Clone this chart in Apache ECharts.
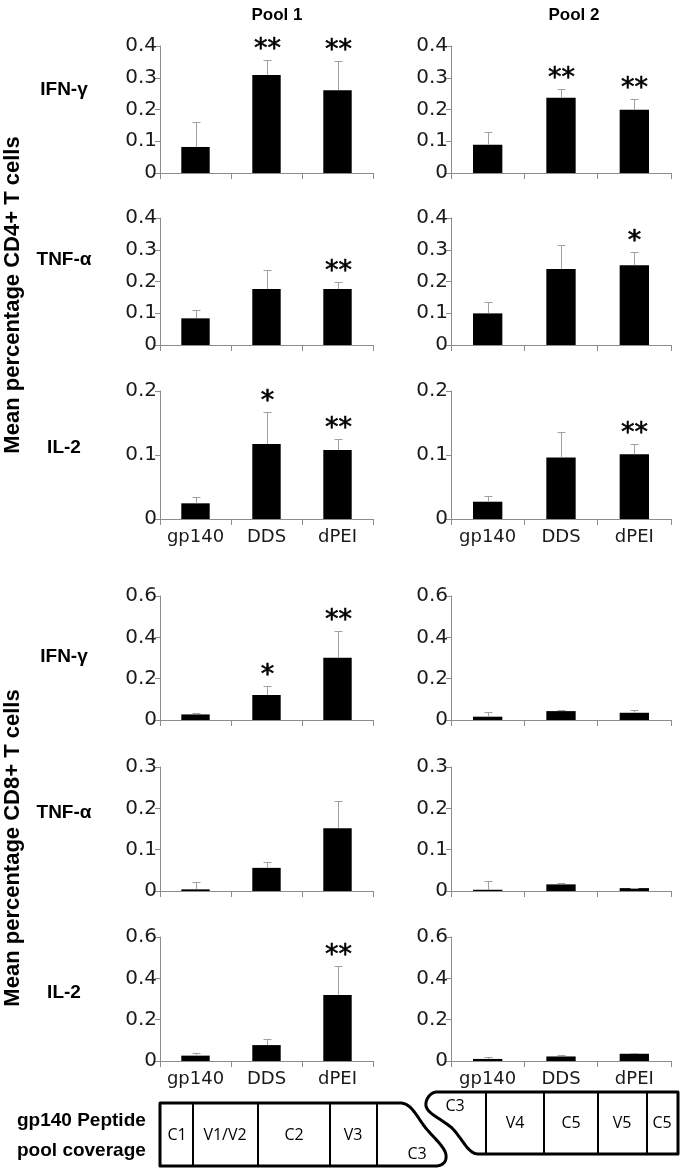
<!DOCTYPE html>
<html><head><meta charset="utf-8">
<script src="https://cdn.jsdelivr.net/npm/echarts@6/dist/echarts.min.js"></script>
<style>html,body{margin:0;padding:0;background:#fff}#c{width:683px;height:1170px}</style>
</head><body><div id="c"></div>
<script>
// ---------- data ----------
const categories = ['gp140', 'DDS', 'dPEI'];
const rowLabels = ['IFN-γ', 'TNF-α', 'IL-2', 'IFN-γ', 'TNF-α', 'IL-2'];
const poolTitles = ['Pool 1', 'Pool 2'];
const groupTitles = ['Mean percentage CD4+ T cells', 'Mean percentage CD8+ T cells'];
const yMax = [0.4, 0.4, 0.2, 0.6, 0.3, 0.6];
const yStep = [0.1, 0.1, 0.1, 0.2, 0.1, 0.2];

// Pool 1
const p1Cd4Ifn = [0.082, 0.309, 0.261], p1Cd4IfnErr = [0.078, 0.047, 0.092], p1Cd4IfnSig = ['', '**', '**'];
const p1Cd4Tnf = [0.084, 0.176, 0.176], p1Cd4TnfErr = [0.025, 0.061, 0.022], p1Cd4TnfSig = ['', '', '**'];
const p1Cd4Il2 = [0.0245, 0.117, 0.108], p1Cd4Il2Err = [0.0095, 0.050, 0.017], p1Cd4Il2Sig = ['', '*', '**'];
const p1Cd8Ifn = [0.027, 0.121, 0.301], p1Cd8IfnErr = [0.008, 0.042, 0.132], p1Cd8IfnSig = ['', '*', '**'];
const p1Cd8Tnf = [0.004, 0.056, 0.152], p1Cd8TnfErr = [0.018, 0.014, 0.066], p1Cd8TnfSig = ['', '', ''];
const p1Cd8Il2 = [0.026, 0.077, 0.319], p1Cd8Il2Err = [0.013, 0.029, 0.140], p1Cd8Il2Sig = ['', '', '**'];
// Pool 2
const p2Cd4Ifn = [0.089, 0.237, 0.199], p2Cd4IfnErr = [0.039, 0.028, 0.033], p2Cd4IfnSig = ['', '**', '**'];
const p2Cd4Tnf = [0.0996, 0.239, 0.251], p2Cd4TnfErr = [0.035, 0.077, 0.043], p2Cd4TnfSig = ['', '', '*'];
const p2Cd4Il2 = [0.027, 0.096, 0.101], p2Cd4Il2Err = [0.009, 0.040, 0.016], p2Cd4Il2Sig = ['', '', '**'];
const p2Cd8Ifn = [0.016, 0.043, 0.035], p2Cd8IfnErr = [0.021, 0.007, 0.012], p2Cd8IfnSig = ['', '', ''];
const p2Cd8Tnf = [0.003, 0.016, 0.007], p2Cd8TnfErr = [0.021, 0.003, 0.001], p2Cd8TnfSig = ['', '', ''];
const p2Cd8Il2 = [0.010, 0.022, 0.035], p2Cd8Il2Err = [0.010, 0.006, 0.005], p2Cd8Il2Sig = ['', '', ''];

// peptide pool coverage diagram labels
const coverageLeft = ['C1', 'V1/V2', 'C2', 'V3', 'C3'];
const coverageRight = ['C3', 'V4', 'C5', 'V5', 'C5'];

// ---------- layout ----------
const colLeft = [160, 451], colWidth = [213, 220];
const rowTop = [46, 218, 391, 596, 767, 937], rowHeight = [127, 127, 128, 124, 124, 124];
const panels = [
  [p1Cd4Ifn, p1Cd4IfnErr, p1Cd4IfnSig, p2Cd4Ifn, p2Cd4IfnErr, p2Cd4IfnSig],
  [p1Cd4Tnf, p1Cd4TnfErr, p1Cd4TnfSig, p2Cd4Tnf, p2Cd4TnfErr, p2Cd4TnfSig],
  [p1Cd4Il2, p1Cd4Il2Err, p1Cd4Il2Sig, p2Cd4Il2, p2Cd4Il2Err, p2Cd4Il2Sig],
  [p1Cd8Ifn, p1Cd8IfnErr, p1Cd8IfnSig, p2Cd8Ifn, p2Cd8IfnErr, p2Cd8IfnSig],
  [p1Cd8Tnf, p1Cd8TnfErr, p1Cd8TnfSig, p2Cd8Tnf, p2Cd8TnfErr, p2Cd8TnfSig],
  [p1Cd8Il2, p1Cd8Il2Err, p1Cd8Il2Sig, p2Cd8Il2, p2Cd8Il2Err, p2Cd8Il2Sig]
];

const AX = '#8c8c8c', ERR = '#a0a0a0', TXT = '#1a1a1a';
const grid = [], xAxis = [], yAxis = [], series = [];

function errRenderer(sig) {
  return function (params, api) {
    const i = api.value(0), m = api.value(1), e = api.value(2);
    const b = api.coord([i, m]);
    const t = api.coord([i, m + e]);
    const x = Math.round(b[0]) + 0.5;
    const ty = Math.round(t[1]) + 0.5;
    const ch = [
      { type: 'line', shape: { x1: x, y1: b[1], x2: x, y2: ty }, style: { stroke: ERR, lineWidth: 1 } },
      { type: 'line', shape: { x1: x - 4, y1: ty, x2: x + 4, y2: ty }, style: { stroke: ERR, lineWidth: 1 } }
    ];
    const s = sig[params.dataIndex];
    if (s) ch.push({ type: 'text', x: x, y: ty - 11,
      style: { text: s, fontSize: 27, fontFamily: 'DejaVu Sans', fill: '#000', stroke: '#000', lineWidth: 0.6,
        align: 'center', verticalAlign: 'middle' } });
    return { type: 'group', children: ch };
  };
}

let gi = 0;
for (let r = 0; r < 6; r++) {
  for (let c = 0; c < 2; c++) {
    const vals = panels[r][c * 3], errs = panels[r][c * 3 + 1], sig = panels[r][c * 3 + 2];
    grid.push({ left: colLeft[c], top: rowTop[r], width: colWidth[c], height: rowHeight[r] });
    const showX = (r === 2 || r === 5);
    xAxis.push({
      type: 'category', gridIndex: gi, data: categories,
      axisLine: { lineStyle: { color: AX, width: 1 } },
      axisTick: { show: true, length: 6, interval: 0, lineStyle: { color: AX } },
      axisLabel: { show: showX, interval: 0, fontSize: 18, fontFamily: 'DejaVu Sans', color: TXT, margin: 9 }
    });
    yAxis.push({
      type: 'value', gridIndex: gi, min: 0, max: yMax[r], interval: yStep[r],
      axisLine: { show: true, lineStyle: { color: AX, width: 1 } },
      axisTick: { show: true, length: 5, lineStyle: { color: AX } },
      splitLine: { show: false },
      axisLabel: { fontSize: 20, fontFamily: 'DejaVu Sans', color: TXT, margin: 3,
        formatter: v => (v === 0 ? '0' : String(+v.toFixed(1))) }
    });
    series.push({
      type: 'bar', xAxisIndex: gi, yAxisIndex: gi, data: vals, barWidth: '40%',
      itemStyle: { color: '#000' }, silent: true, animation: false
    });
    series.push({
      type: 'custom', xAxisIndex: gi, yAxisIndex: gi, clip: false, animation: false, silent: true,
      data: vals.map((v, i) => [i, v, errs[i]]),
      encode: { x: 0, y: 1 },
      renderItem: errRenderer(sig), z: 3
    });
    gi++;
  }
}

// ---------- text & diagram graphics ----------
const BOLD = { fontFamily: 'Liberation Sans', fontWeight: 'bold', fill: '#000' };
const graphic = [];
const poolX = [277, 574];
poolTitles.forEach((t, i) => graphic.push({ type: 'text', x: poolX[i], y: 15,
  style: Object.assign({ text: t, fontSize: 17, align: 'center', verticalAlign: 'middle' }, BOLD) }));
const rowLabelY = [90, 260, 448, 657, 813, 993];
rowLabels.forEach((t, i) => graphic.push({ type: 'text', x: 64, y: rowLabelY[i],
  style: Object.assign({ text: t, fontSize: 19, align: 'center', verticalAlign: 'middle' }, BOLD) }));
const groupY = [295, 848];
groupTitles.forEach((t, i) => graphic.push({ type: 'text', x: 13, y: groupY[i], rotation: Math.PI / 2,
  style: Object.assign({ text: t, fontSize: 22, align: 'center', verticalAlign: 'middle' }, BOLD) }));

graphic.push({ type: 'text', x: 17, y: 1121, style: Object.assign({ text: 'gp140 Peptide', fontSize: 19, align: 'left', verticalAlign: 'middle' }, BOLD) });
graphic.push({ type: 'text', x: 17, y: 1151, style: Object.assign({ text: 'pool coverage', fontSize: 19, align: 'left', verticalAlign: 'middle' }, BOLD) });

// simple path (M/L/C) -> polyline points
function pathPts(segs) {
  const pts = [];
  let cur = null;
  segs.forEach(s => {
    if (s[0] === 'M' || s[0] === 'L') { cur = [s[1], s[2]]; pts.push(cur); }
    else if (s[0] === 'C') {
      const [x0, y0] = cur;
      for (let k = 1; k <= 16; k++) {
        const t = k / 16, u = 1 - t;
        pts.push([u*u*u*x0 + 3*u*u*t*s[1] + 3*u*t*t*s[3] + t*t*t*s[5],
                  u*u*u*y0 + 3*u*u*t*s[2] + 3*u*t*t*s[4] + t*t*t*s[6]]);
      }
      cur = [s[5], s[6]];
    }
  });
  return pts;
}
const boxStyle = { stroke: '#000', lineWidth: 3, fill: 'none', lineJoin: 'round' };
graphic.push({ type: 'polygon', shape: { points: pathPts([
  ['M', 160, 1103], ['L', 400, 1103], ['C', 410, 1103, 415, 1113, 422, 1123],
  ['C', 430, 1135, 445, 1146, 446, 1155], ['C', 447, 1164, 440, 1166, 435, 1166], ['L', 160, 1166]]) },
  style: boxStyle });
graphic.push({ type: 'polygon', shape: { points: pathPts([
  ['M', 678, 1092], ['L', 437, 1092], ['C', 430, 1092, 425, 1100, 426, 1106],
  ['C', 428, 1114, 440, 1118, 452, 1128], ['C', 462, 1138, 468, 1154, 478, 1154], ['L', 678, 1154]]) },
  style: boxStyle });
[193, 258, 330, 377].forEach(x => graphic.push({ type: 'line', shape: { x1: x, y1: 1103, x2: x, y2: 1166 }, style: { stroke: '#000', lineWidth: 2 } }));
[486, 544, 598, 647].forEach(x => graphic.push({ type: 'line', shape: { x1: x, y1: 1092, x2: x, y2: 1154 }, style: { stroke: '#000', lineWidth: 2 } }));
const leftLabX = [177, 225, 294, 353, 417], leftLabY = [1135, 1135, 1135, 1135, 1154];
const rightLabX = [455, 515, 571, 622, 662], rightLabY = [1106, 1123, 1123, 1123, 1123];
const CELL = { fontFamily: 'Open Sans', fontSize: 16, fill: '#000', align: 'center', verticalAlign: 'middle' };
coverageLeft.forEach((t, i) => graphic.push({ type: 'text', x: leftLabX[i], y: leftLabY[i], style: Object.assign({ text: t }, CELL) }));
coverageRight.forEach((t, i) => graphic.push({ type: 'text', x: rightLabX[i], y: rightLabY[i], style: Object.assign({ text: t }, CELL) }));

const chart = echarts.init(document.getElementById('c'), null, { renderer: 'canvas' });
chart.setOption({ backgroundColor: '#fff', animation: false, grid, xAxis, yAxis, series, graphic });
</script></body></html>
